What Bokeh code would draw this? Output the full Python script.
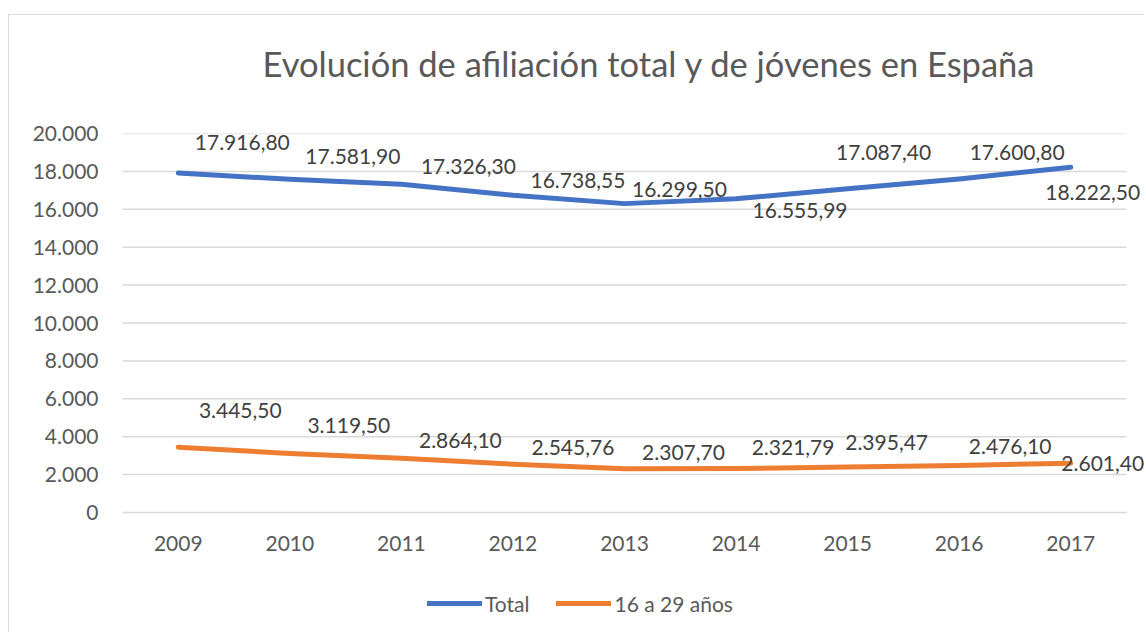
from bokeh.plotting import figure
from bokeh.models import (ColumnDataSource, LabelSet, Legend, LegendItem, Title,
                          CustomJSTickFormatter, FixedTicker, Range1d, FactorRange)
from bokeh.core.properties import value
from bokeh.embed import file_html
from bokeh.resources import INLINE

# ---- data ----
years = ["2009", "2010", "2011", "2012", "2013", "2014", "2015", "2016", "2017"]
total = [17916.80, 17581.90, 17326.30, 16738.55, 16299.50, 16555.99, 17087.40, 17600.80, 18222.50]
jovenes = [3445.50, 3119.50, 2864.10, 2545.76, 2307.70, 2321.79, 2395.47, 2476.10, 2601.40]
y_ticks = [0, 2000, 4000, 6000, 8000, 10000, 12000, 14000, 16000, 18000, 20000]
series_names = ["Total", "16 a 29 años"]
title_text = "Evolución de afiliación total y de jóvenes en España"

# ---- label placement (pixels, style only) ----
total_dx = [64, 63, 67, 65, 55, 64, 36, 58, 22]
total_dy = [30, 23, 18, 15, 14, -12, 36, 26, -25]
jov_dx = [62, 59, 59, 60, 59, 57, 39, 51, 32]
jov_dy = [37, 28, 18, 17, 16, 21, 25, 19, 0]


def es(v):
    s = f"{v:,.2f}"
    return s.replace(",", "X").replace(".", ",").replace("X", ".")


FONT = "Lato"
BLUE = "#4472C4"
ORANGE = "#ED7D31"
GRID = "#d9d9d9"
TXT = "#595959"
LBL = "#404040"

# layout geometry (pixels)
W, H = 1136, 618
TOP_PX, ZERO_PX, BOTTOM_PX = 118, 497, 616   # canvas pixels: top line, 0 line, frame bottom
PLOT_L, PLOT_R = 113, 1117                    # canvas pixels of the category band
EXTRA = 18                                     # frame extension each side (room for labels)
y_max = y_ticks[-1]
y_min = -(BOTTOM_PX - ZERO_PX) * y_max / (ZERO_PX - TOP_PX)
band = (PLOT_R - PLOT_L) / len(years)
pad = EXTRA / band

p = figure(x_range=FactorRange(factors=years, range_padding=pad,
                               range_padding_units="absolute"),
           y_range=Range1d(y_min, y_max), width=W, height=H,
           output_backend="svg", toolbar_location=None,
           min_border_left=PLOT_L - EXTRA, min_border_right=W - PLOT_R - EXTRA,
           min_border_top=TOP_PX, min_border_bottom=H - BOTTOM_PX)
p.margin = (14, 0, 0, 8)
p.styles = {"border-top": "1px solid #d9d9d9", "border-left": "1px solid #d9d9d9"}
p.outline_line_color = None
p.background_fill_color = "white"
p.border_fill_color = "white"

p.title.text = title_text
p.title.align = "left"
p.title.offset = 140 + EXTRA
p.title.text_font = FONT
p.title.text_font_size = "34.5px"
p.title.text_font_style = "normal"
p.title.text_color = TXT
p.title.standoff = 10

# empty spacer between the title and the plot area
p.add_layout(Title(text=" ", text_font_size="2px", standoff=41), "above")

# horizontal gridlines spanning the category band only
p.segment(x0=[0] * len(y_ticks), x1=[len(years)] * len(y_ticks), y0=y_ticks, y1=y_ticks,
          line_color=GRID, line_width=1.5)

src_t = ColumnDataSource(dict(x=years, y=total, lab=[es(v) for v in total],
                              dx=total_dx, dy=total_dy))
src_j = ColumnDataSource(dict(x=years, y=jovenes, lab=[es(v) for v in jovenes],
                              dx=jov_dx, dy=jov_dy))

r1 = p.line("x", "y", source=src_t, line_width=5, line_color=BLUE,
            line_cap="round", line_join="round")
r2 = p.line("x", "y", source=src_j, line_width=5, line_color=ORANGE,
            line_cap="round", line_join="round")

for src in (src_t, src_j):
    p.add_layout(LabelSet(x="x", y="y", text="lab", source=src,
                          x_offset="dx", y_offset="dy",
                          text_align="center", text_baseline="middle",
                          text_font=value(FONT), text_font_size=value("21px"),
                          text_color=LBL))

# axes
p.yaxis.ticker = FixedTicker(ticks=y_ticks)
p.yaxis.formatter = CustomJSTickFormatter(
    code=r"return tick.toFixed(0).replace(/\B(?=(\d{3})+(?!\d))/g, '.');")
for ax in (p.xaxis[0], p.yaxis[0]):
    ax.axis_line_color = None
    ax.major_tick_line_color = None
    ax.minor_tick_line_color = None
    ax.major_tick_out = 0
    ax.major_tick_in = 0
    ax.major_label_text_font = FONT
    ax.major_label_text_font_size = "21px"
    ax.major_label_text_color = TXT
p.yaxis.major_label_standoff = 24 - EXTRA
p.xaxis.major_label_standoff = 23
p.xaxis.fixed_location = y_ticks[0]

p.xgrid.grid_line_color = None
p.ygrid.grid_line_color = None

legend = Legend(items=[LegendItem(label=series_names[0], renderers=[r1]),
                       LegendItem(label=series_names[1], renderers=[r2])],
                orientation="horizontal", location=(305 + EXTRA, 15),
                glyph_width=55, glyph_height=26, label_height=26,
                label_standoff=3, spacing=27, padding=0, margin=0,
                border_line_color=None, background_fill_alpha=0,
                label_text_font=FONT, label_text_font_size="21px",
                label_text_color=TXT)
p.add_layout(legend)

open("out.html", "w").write(file_html(p, INLINE))
